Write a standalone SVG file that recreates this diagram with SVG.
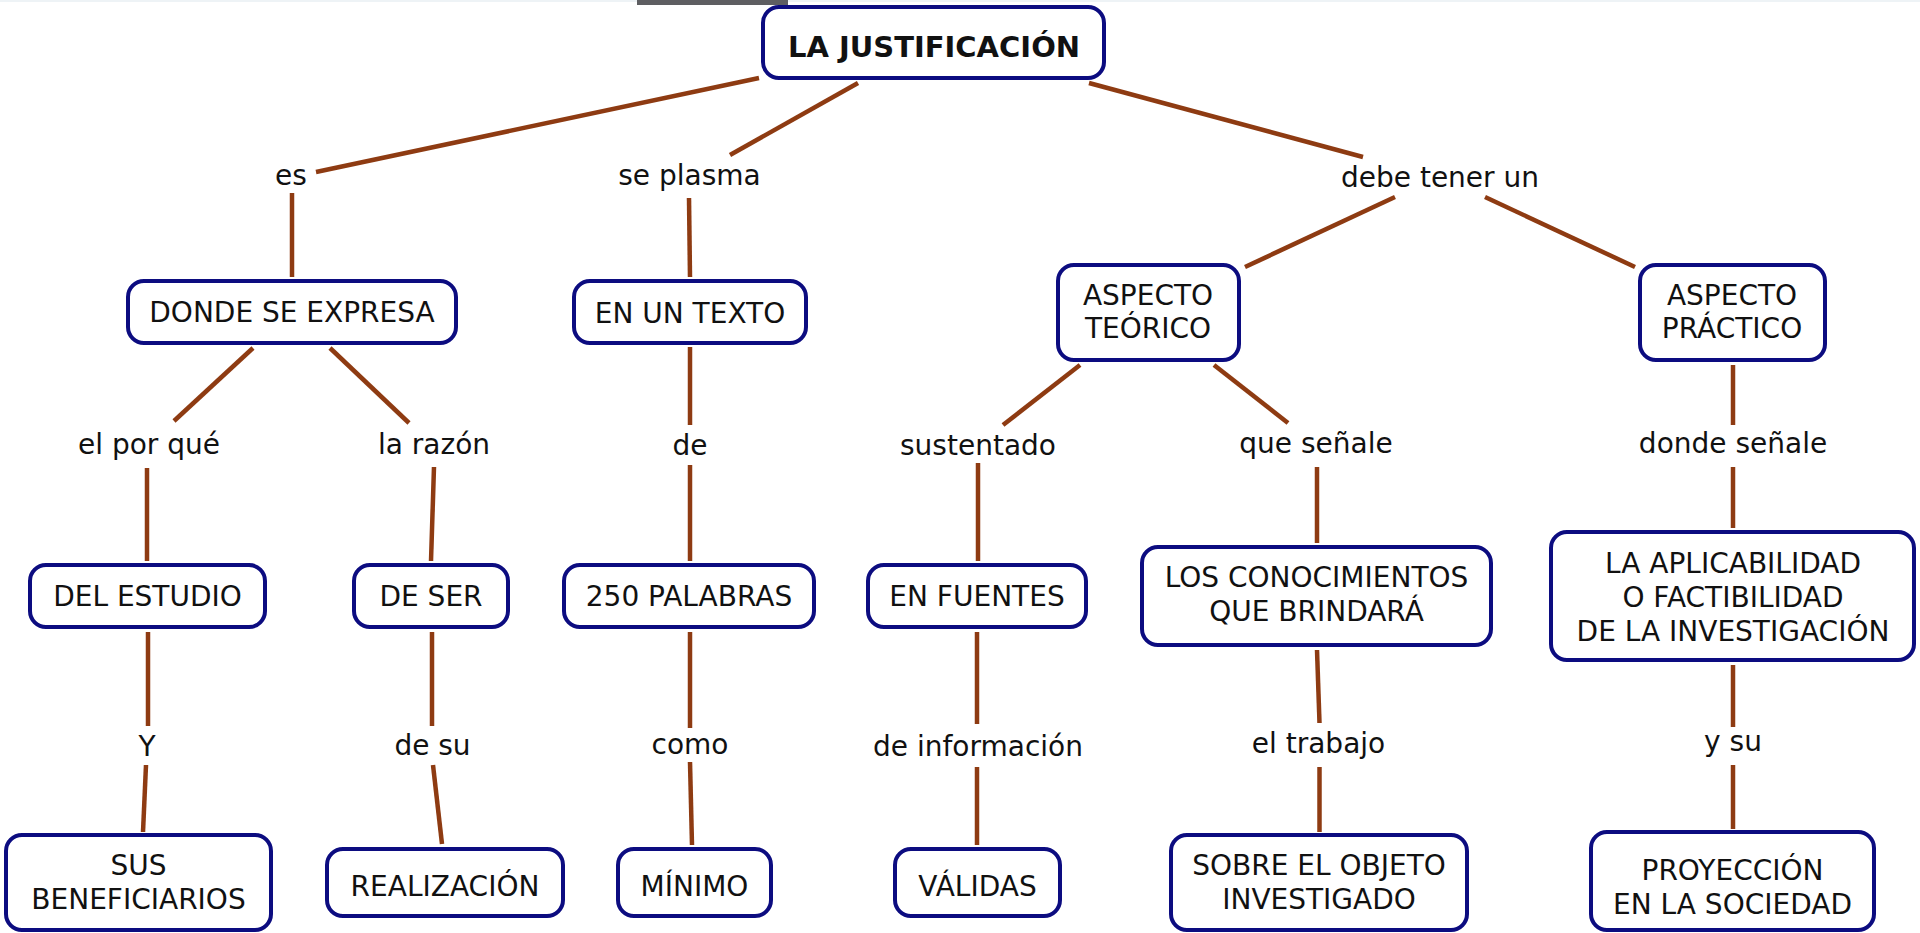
<svg xmlns="http://www.w3.org/2000/svg" width="1920" height="933" viewBox="0 0 1920 933">
<style>
.bg{fill:#ffffff}
.node rect{fill:#ffffff;stroke:#0c0c80;stroke-width:4}
.node text,.lbl{font-family:"DejaVu Sans",Verdana,sans-serif;font-size:28px;fill:#111111;text-anchor:middle}
.title text{font-weight:bold;font-size:29px}
#connectors line{stroke:#8e3b12;stroke-width:4.5;stroke-linecap:butt}
</style>
<rect class="bg" x="0" y="0" width="1920" height="933"/>
<rect x="0" y="0" width="1920" height="2" fill="#eef3f6"/>
<rect x="637" y="0" width="151" height="5" fill="#5e5e62"/>

<g id="connectors">
<line x1="759" y1="78" x2="316" y2="172"/>
<line x1="292" y1="193" x2="292" y2="277"/>
<line x1="858" y1="83" x2="730" y2="155"/>
<line x1="689" y1="198" x2="690" y2="277"/>
<line x1="1089" y1="83" x2="1363" y2="157"/>
<line x1="1395" y1="197" x2="1245" y2="267"/>
<line x1="1485" y1="197" x2="1635" y2="267"/>
<line x1="253" y1="348" x2="174" y2="421"/>
<line x1="330" y1="348" x2="409" y2="423"/>
<line x1="690" y1="347" x2="690" y2="425"/>
<line x1="1080" y1="365" x2="1003" y2="425"/>
<line x1="1214" y1="365" x2="1288" y2="423"/>
<line x1="1733" y1="365" x2="1733" y2="425"/>
<line x1="147" y1="468" x2="147" y2="561"/>
<line x1="434" y1="467" x2="431" y2="561"/>
<line x1="690" y1="465" x2="690" y2="561"/>
<line x1="978" y1="463" x2="978" y2="561"/>
<line x1="1317" y1="467" x2="1317" y2="543"/>
<line x1="1733" y1="467" x2="1733" y2="528"/>
<line x1="148" y1="632" x2="148" y2="726"/>
<line x1="146" y1="765" x2="143" y2="832"/>
<line x1="432" y1="632" x2="432" y2="726"/>
<line x1="433" y1="765" x2="442" y2="844"/>
<line x1="690" y1="632" x2="690" y2="728"/>
<line x1="690" y1="762" x2="692" y2="845"/>
<line x1="977" y1="632" x2="977" y2="724"/>
<line x1="977" y1="767" x2="977" y2="845"/>
<line x1="1317" y1="650" x2="1319.5" y2="723"/>
<line x1="1319.5" y1="767" x2="1319.5" y2="832"/>
<line x1="1733" y1="665" x2="1733" y2="727"/>
<line x1="1733" y1="765" x2="1733" y2="829"/>
</g>

<g id="labels">
<text class="lbl" x="291" y="185">es</text>
<text class="lbl" x="689.5" y="185">se plasma</text>
<text class="lbl" x="1440" y="187">debe tener un</text>
<text class="lbl" x="149" y="454">el por qué</text>
<text class="lbl" x="434" y="454">la razón</text>
<text class="lbl" x="690" y="455">de</text>
<text class="lbl" x="978" y="455">sustentado</text>
<text class="lbl" x="1316" y="453">que señale</text>
<text class="lbl" x="1733" y="453">donde señale</text>
<text class="lbl" x="147" y="756">Y</text>
<text class="lbl" x="432.5" y="755">de su</text>
<text class="lbl" x="690" y="754">como</text>
<text class="lbl" x="978" y="756">de información</text>
<text class="lbl" x="1318.5" y="753">el trabajo</text>
<text class="lbl" x="1733" y="751">y su</text>
</g>

<g id="n-justificacion" class="node title"><rect x="763" y="7" width="341" height="71" rx="16"/><text x="934" y="57">LA JUSTIFICACIÓN</text></g>
<g id="n-donde-se-expresa" class="node"><rect x="128" y="281" width="328" height="62" rx="16"/><text x="292" y="322">DONDE SE EXPRESA</text></g>
<g id="n-en-un-texto" class="node"><rect x="574" y="281" width="232" height="62" rx="16"/><text x="690" y="323">EN UN TEXTO</text></g>
<g id="n-aspecto-teorico" class="node"><rect x="1058" y="265" width="181" height="95" rx="16"/><text x="1148" y="305">ASPECTO</text><text x="1148" y="338">TEÓRICO</text></g>
<g id="n-aspecto-practico" class="node"><rect x="1640" y="265" width="185" height="95" rx="16"/><text x="1732" y="305">ASPECTO</text><text x="1732" y="338">PRÁCTICO</text></g>
<g id="n-del-estudio" class="node"><rect x="30" y="565" width="235" height="62" rx="16"/><text x="147.5" y="606">DEL ESTUDIO</text></g>
<g id="n-de-ser" class="node"><rect x="354" y="565" width="154" height="62" rx="16"/><text x="431" y="606">DE SER</text></g>
<g id="n-250-palabras" class="node"><rect x="564" y="565" width="250" height="62" rx="16"/><text x="689" y="606">250 PALABRAS</text></g>
<g id="n-en-fuentes" class="node"><rect x="868" y="565" width="218" height="62" rx="16"/><text x="977" y="606">EN FUENTES</text></g>
<g id="n-conocimientos" class="node"><rect x="1142" y="547" width="349" height="98" rx="16"/><text x="1316.5" y="587">LOS CONOCIMIENTOS</text><text x="1316.5" y="621">QUE BRINDARÁ</text></g>
<g id="n-aplicabilidad" class="node"><rect x="1551" y="532" width="363" height="128" rx="16"/><text x="1733" y="573">LA APLICABILIDAD</text><text x="1733" y="607">O FACTIBILIDAD</text><text x="1733" y="641">DE LA INVESTIGACIÓN</text></g>
<g id="n-beneficiarios" class="node"><rect x="6" y="835" width="265" height="95" rx="16"/><text x="138.5" y="875">SUS</text><text x="138.5" y="909">BENEFICIARIOS</text></g>
<g id="n-realizacion" class="node"><rect x="327" y="849" width="236" height="67" rx="16"/><text x="445" y="896">REALIZACIÓN</text></g>
<g id="n-minimo" class="node"><rect x="618" y="849" width="153" height="67" rx="16"/><text x="694.5" y="896">MÍNIMO</text></g>
<g id="n-validas" class="node"><rect x="895" y="849" width="165" height="67" rx="16"/><text x="977.5" y="896">VÁLIDAS</text></g>
<g id="n-objeto" class="node"><rect x="1171" y="835" width="296" height="95" rx="16"/><text x="1319" y="875">SOBRE EL OBJETO</text><text x="1319" y="909">INVESTIGADO</text></g>
<g id="n-proyeccion" class="node"><rect x="1591" y="832" width="283" height="98" rx="16"/><text x="1732.5" y="880">PROYECCIÓN</text><text x="1732.5" y="914">EN LA SOCIEDAD</text></g>
</svg>
